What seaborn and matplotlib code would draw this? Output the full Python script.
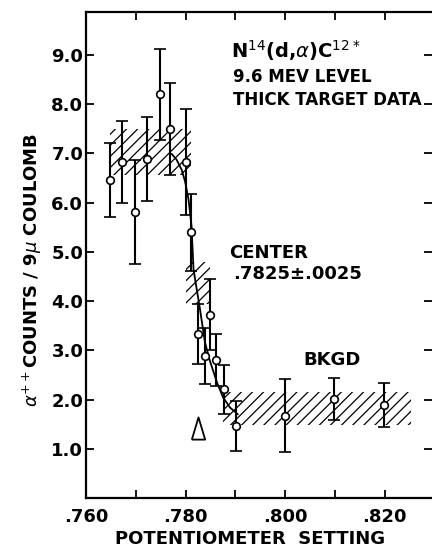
import numpy as np
import seaborn as sns
import matplotlib.pyplot as plt

# data points (potentiometer setting, counts, error)
pot_setting = [0.7648, 0.7672, 0.7698, 0.7723, 0.7748, 0.7769, 0.7800, 0.7810,
               0.7824, 0.7839, 0.7849, 0.7861, 0.7877, 0.7902, 0.8000, 0.8099, 0.8199]
counts = [6.46, 6.82, 5.81, 6.88, 8.20, 7.49, 6.82, 5.40,
          3.33, 2.88, 3.72, 2.80, 2.21, 1.46, 1.67, 2.01, 1.89]
count_err = [0.75, 0.83, 1.05, 0.85, 0.92, 0.93, 1.08, 0.78,
             0.61, 0.57, 0.72, 0.53, 0.50, 0.50, 0.74, 0.42, 0.45]

# hand drawn fit curve
curve_x = [0.7772, 0.7782, 0.7792, 0.7799, 0.7806, 0.7812, 0.7816, 0.7829,
           0.7839, 0.7849, 0.7863, 0.7875, 0.7889, 0.7905]
curve_y = [6.99, 6.87, 6.67, 6.43, 6.06, 5.52, 4.64, 3.83,
           3.16, 2.78, 2.35, 2.05, 1.84, 1.70]

# hatched bands: (x0, x1, y0, y1)
band_peak = (0.7648, 0.7810, 6.55, 7.50)
band_center = (0.7800, 0.7850, 3.95, 4.80)
band_bkgd = (0.7875, 0.8253, 1.48, 2.16)

center_pos = 0.7825
center_mark_y = 1.43

sns.set_style("ticks")
plt.rcParams['font.family'] = ['DejaVu Sans']
plt.rcParams['mathtext.fontset'] = 'dejavusans'
plt.rcParams['hatch.linewidth'] = 0.9
for key in ['text.color', 'axes.labelcolor', 'xtick.color', 'ytick.color', 'axes.edgecolor']:
    plt.rcParams[key] = 'black'

fig = plt.figure(figsize=(4.32, 5.48), dpi=100)
ax = fig.add_axes([86 / 432, 50 / 548, 346 / 432, 486 / 548])

for x0, x1, y0, y1 in [band_peak, band_center, band_bkgd]:
    ax.fill_between([x0, x1], [y0, y0], [y1, y1], facecolor='none',
                    edgecolor='black', hatch='///', linewidth=0)

sns.lineplot(x=curve_x, y=curve_y, sort=False, color='black', linewidth=1.3, ax=ax)

ax.errorbar(pot_setting, counts, yerr=count_err, fmt='o', color='black',
            markerfacecolor='white', markeredgecolor='black', markersize=5.5,
            markeredgewidth=1.2, elinewidth=1.5, capsize=4, capthick=1.5, zorder=3)

# open triangle marking the center
ax.plot([center_pos], [center_mark_y], marker=[(-3, -5), (0, 5), (3, -5), (-3, -5)],
        markersize=16, markerfacecolor='white', markeredgecolor='black',
        markeredgewidth=1.3, linestyle='none')

ax.set_xlim(0.760, 0.8295)
ax.set_ylim(0, 9.87)
ax.set_xticks([0.760, 0.780, 0.800, 0.820])
ax.set_xticklabels(['.760', '.780', '.800', '.820'])
ax.set_xticks([0.770, 0.790, 0.810], minor=True)
ax.set_yticks([1, 2, 3, 4, 5, 6, 7, 8, 9])
ax.set_yticklabels([f'{v:.1f}' for v in range(1, 10)])

ax.tick_params(which='both', direction='in', top=True, right=True, length=6, width=1.3)
ax.tick_params(axis='x', labelsize=13, pad=7)
ax.tick_params(axis='y', labelsize=13, pad=2)
for lbl in ax.get_xticklabels() + ax.get_yticklabels():
    lbl.set_fontweight('bold')

for side in ['left', 'bottom', 'top']:
    ax.spines[side].set_linewidth(1.6)
ax.spines['right'].set_visible(False)

ax.set_xlabel('POTENTIOMETER  SETTING', fontsize=13, fontweight='bold')
ax.xaxis.label.set_va('center')
ax.xaxis.set_label_coords(0.474, (498 - 539) / 486)
ax.set_ylabel(r'$\alpha^{++}$COUNTS / 9$\mu$ COULOMB', fontsize=13, fontweight='bold')
ax.yaxis.label.set_va('center')
ax.yaxis.set_label_coords((32 - 86) / 346, (498 - 270) / 486)

ax.text(0.7891, 8.93, r'N$^{14}$(d,$\alpha$)C$^{12*}$', fontsize=14, fontweight='bold',
        va='baseline', ha='left')
ax.text(0.7895, 8.45, '9.6 MEV LEVEL', fontsize=12, fontweight='bold', va='baseline', ha='left')
ax.text(0.7895, 7.98, 'THICK TARGET DATA', fontsize=12, fontweight='bold', va='baseline', ha='left')
ax.text(0.7887, 4.88, 'CENTER', fontsize=13, fontweight='bold', va='baseline', ha='left')
ax.text(0.7895, 4.44, '.7825\u00b1.0025', fontsize=13, fontweight='bold', va='baseline', ha='left')
ax.text(0.8036, 2.70, 'BKGD', fontsize=13, fontweight='bold', va='baseline', ha='left')

fig.savefig('out.png', dpi=100)
